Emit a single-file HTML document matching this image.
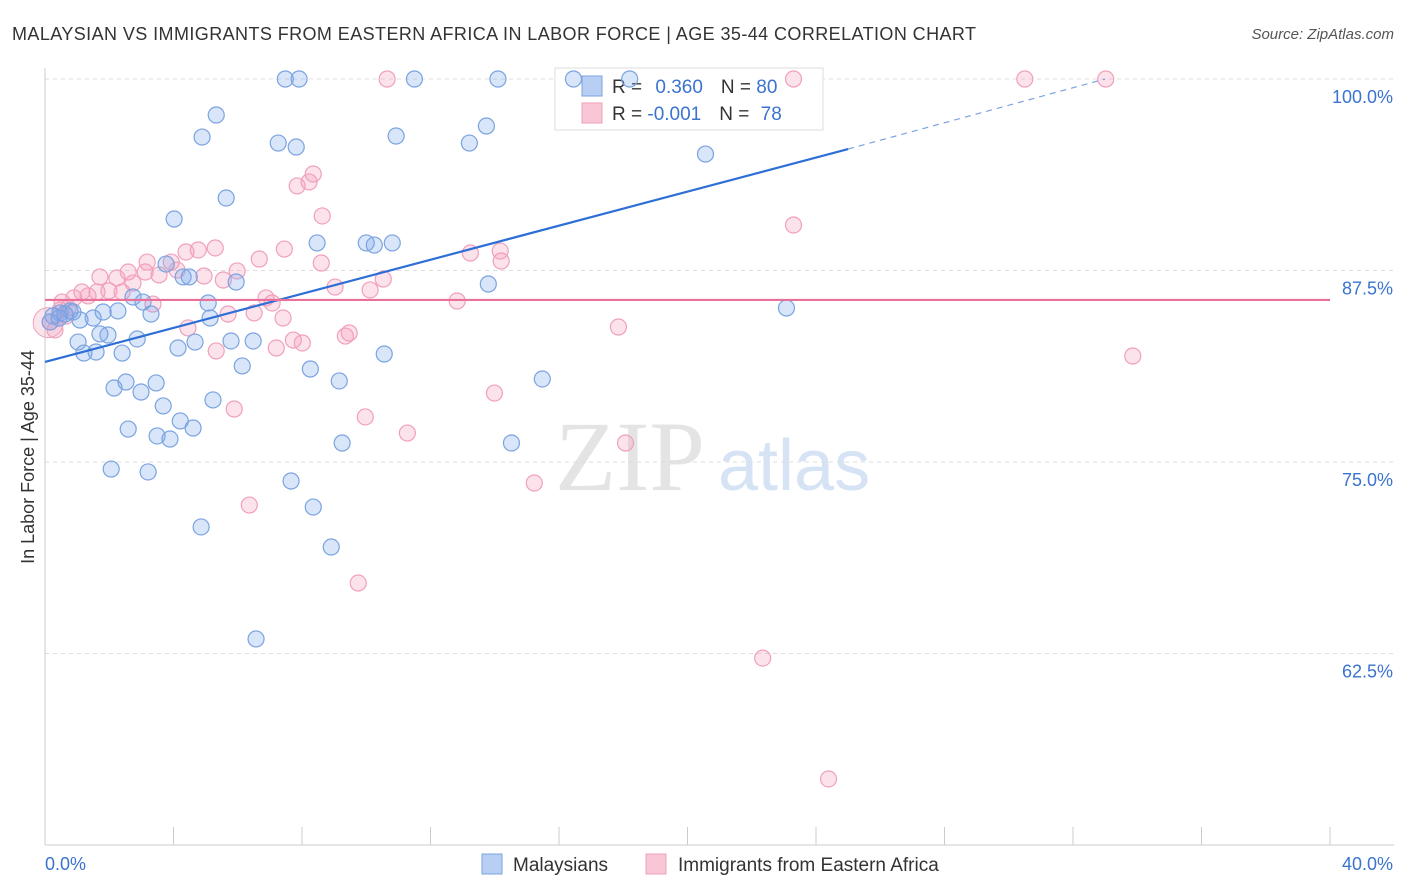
<!DOCTYPE html>
<html><head><meta charset="utf-8"><style>
body{margin:0;background:#fff;font-family:"Liberation Sans",sans-serif}
svg{display:block}
</style></head><body>
<svg id="c" width="1406" height="892">
<text x="12" y="40" font-size="18" fill="#333" textLength="964">MALAYSIAN VS IMMIGRANTS FROM EASTERN AFRICA IN LABOR FORCE | AGE 35-44 CORRELATION CHART</text>
<text x="1394" y="39" font-size="15" fill="#555" font-style="italic" text-anchor="end">Source: ZipAtlas.com</text>
<text x="0" y="0" transform="translate(34,457) rotate(-90)" font-size="18" fill="#333" text-anchor="middle">In Labor Force | Age 35-44</text>
<text x="555" y="490" font-size="100" fill="#e4e4e4" font-family="Liberation Serif">ZIP</text>
<text x="718" y="490" font-size="72" fill="#d6e3f5">atlas</text>
<g id="grid"></g>
<g>
<rect x="555" y="68" width="268" height="62" fill="#fff" stroke="#ddd"/>
<rect x="582" y="76" width="20" height="20" fill="#b8cff3" stroke="#7aa3e0"/>
<text x="612" y="93" font-size="19" fill="#333">R = <tspan fill="#3a73d0" dx="8">0.360</tspan><tspan dx="18">N = </tspan><tspan fill="#3a73d0">80</tspan></text>
<rect x="582" y="103" width="20" height="20" fill="#f9c6d6" stroke="#f0a0bb"/>
<text x="612" y="120" font-size="19" fill="#333">R = <tspan fill="#3a73d0">-0.001</tspan><tspan dx="18">N = </tspan><tspan fill="#3a73d0" dx="6">78</tspan></text>
</g>
<g id="pts"></g><g id="lines"></g>
<g>
<rect x="482" y="854" width="20" height="20" fill="#b8cff3" stroke="#7aa3e0"/>
<text x="513" y="871" font-size="19" fill="#333">Malaysians</text>
<rect x="646" y="854" width="20" height="20" fill="#f9c6d6" stroke="#f0a0bb"/>
<text x="678" y="871" font-size="19" fill="#333">Immigrants from Eastern Africa</text>
</g>
</svg>
<script>
const yTicks=[100,87.5,75,62.5];
const yTickLabels=["100.0%","87.5%","75.0%","62.5%"];
const blueX=[7.48,7.91,11.5,14.1,16.45,18.2,5.33,4.89,7.26,7.82,10.93,13.74,13.21,20.56,5.64,4.02,8.47,10.0,10.25,10.81,3.77,4.3,4.49,5.95,13.8,23.08,2.74,3.05,5.08,3.3,5.14,2.27,1.81,1.5,1.09,0.78,0.47,0.25,0.16,1.96,1.71,2.87,1.03,1.21,1.59,2.4,4.14,4.67,5.79,6.48,6.14,10.56,8.26,9.16,15.48,2.52,3.46,2.15,2.99,3.68,5.23,4.21,4.61,2.59,3.49,3.89,9.25,14.52,2.06,3.21,7.66,8.35,4.86,8.91,6.57,0.44,0.62,0.87];
const blueY=[100,100,100,100,100,100,97.65,96.21,95.82,95.56,96.28,96.93,95.82,95.1,92.23,90.86,89.3,89.3,89.16,89.3,87.92,87.08,87.08,86.75,86.62,85.05,85.77,85.44,85.38,84.66,84.4,84.86,84.79,84.4,84.27,84.86,84.73,84.53,84.14,83.29,83.36,83.03,82.83,82.11,82.18,82.11,82.44,82.83,82.9,82.9,81.27,82.05,81.07,80.29,80.42,80.22,80.16,79.83,79.57,78.66,79.05,77.68,77.22,77.15,76.7,76.5,76.24,76.24,74.54,74.35,73.76,72.06,70.76,69.45,63.45,84.4,84.66,84.79];
const pinkX=[10.65,23.3,30.5,33.02,8.35,7.85,8.22,8.63,23.3,5.3,4.77,4.39,6.67,7.45,8.6,13.24,14.17,14.2,3.18,3.93,3.12,4.11,4.95,5.98,1.71,2.24,2.59,2.74,3.55,5.55,9.03,10.53,10.12,1.15,1.34,1.62,1.99,2.4,6.88,7.07,3.36,0.9,0.53,0.72,12.83,5.7,6.51,7.41,17.85,4.45,9.47,9.35,7.73,8.01,7.2,5.33,33.86,13.99,5.89,9.97,11.28,18.07,15.23,6.36,9.75,22.34,24.39,0.16,0.31,0.47,0.65];
const pinkY=[100,100,100,100,93.8,93.02,93.28,91.06,90.47,88.97,88.84,88.71,88.25,88.9,87.99,88.64,88.77,88.12,88.05,88.05,87.4,87.53,87.14,87.47,87.08,87.01,87.4,86.68,87.21,86.88,86.42,86.94,86.23,86.1,85.84,86.1,86.17,86.1,85.71,85.38,85.31,85.71,85.44,85.05,85.51,84.66,84.73,84.4,83.81,83.75,83.42,83.22,82.96,82.77,82.44,82.25,81.92,79.5,78.46,77.94,76.89,76.24,73.63,72.19,67.1,62.2,54.31,84.14,83.62,84.92,84.53];
const blueTrend=[[0,81.53],[25,95.43],[33,100]];
const pinkTrend=[85.58];
const NS="http://www.w3.org/2000/svg";
const X=v=>45+v*32.125, Y=v=>79+(100-v)*15.32;
function mk(t,a,p){const e=document.createElementNS(NS,t);for(const k in a)e.setAttribute(k,a[k]);p.appendChild(e);return e;}
const grid=document.getElementById('grid'),pts=document.getElementById('pts'),lines=document.getElementById('lines');
yTicks.forEach((t,i)=>{
 const l=mk('line',{x1:45,x2:1394,y1:Y(t),y2:Y(t),stroke:'#ddd','stroke-dasharray':'4,4'},grid);
 
 
 const tx=mk('text',{x:1393,y:Y(t)+24,'font-size':18,fill:'#3a73d0','text-anchor':'end'},grid);
 tx.textContent=yTickLabels[i];
 
 
});
mk('line',{x1:45,x2:45,y1:68,y2:845,stroke:'#ccc'},grid);
mk('line',{x1:45,x2:1394,y1:845,y2:845,stroke:'#ccc'},grid);
for(let i=0;i<=10;i++){const tk=mk('line',{x1:X(i*4),x2:X(i*4),y1:827,y2:845,stroke:'#ccc'},grid);
 
 }
let t0=mk('text',{x:45,y:870,'font-size':18,fill:'#3a73d0'},grid);t0.textContent='0.0%';


let t1=mk('text',{x:1393,y:870,'font-size':18,fill:'#3a73d0','text-anchor':'end'},grid);t1.textContent='40.0%';


const big=mk('circle',{cx:X(0.1),cy:Y(84.1),r:15,fill:'rgba(240,150,180,0.25)',stroke:'#f0a0bb'},pts);


pinkX.forEach((v,i)=>{const c=mk('circle',{cx:X(v),cy:Y(pinkY[i]),r:8,fill:'rgba(245,160,190,0.3)',stroke:'#f0a0bb','stroke-width':1.2},pts);
 
 });
blueX.forEach((v,i)=>{const c=mk('circle',{cx:X(v),cy:Y(blueY[i]),r:8,fill:'rgba(130,170,235,0.3)',stroke:'#7aa3e0','stroke-width':1.2},pts);
 
 });
const bl=mk('line',{x1:X(blueTrend[0][0]),y1:Y(blueTrend[0][1]),x2:X(blueTrend[1][0]),y2:Y(blueTrend[1][1]),stroke:'#2d6fd6','stroke-width':2.2},lines);


const bd=mk('line',{x1:X(blueTrend[1][0]),y1:Y(blueTrend[1][1]),x2:X(blueTrend[2][0]),y2:Y(blueTrend[2][1]),stroke:'#7aa3e0','stroke-width':1.2,'stroke-dasharray':'6,5'},lines);


const pl=mk('line',{x1:X(0),y1:Y(pinkTrend[0]),x2:X(40),y2:Y(pinkTrend[0]),stroke:'#e8709a','stroke-width':2.2},lines);


</script>
</body></html>
